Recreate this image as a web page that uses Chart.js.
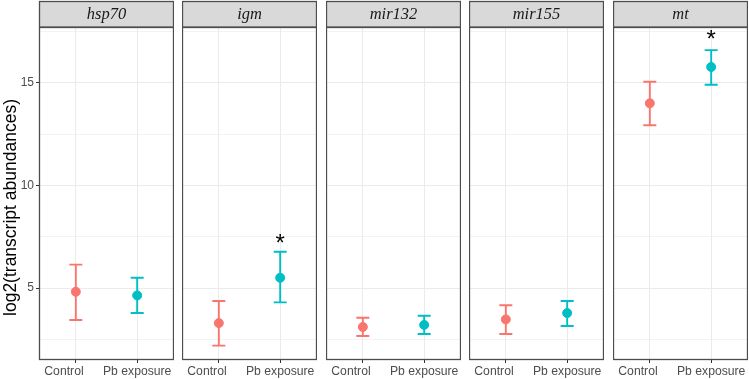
<!DOCTYPE html>
<html>
<head>
<meta charset="utf-8">
<script src="https://cdn.jsdelivr.net/npm/chart.js@4.4.0/dist/chart.umd.min.js"></script>
<style>
  body { margin: 0; background: #fff; }
  #wrap { position: relative; width: 749px; height: 379px; }
  .panel { position: absolute; top: 0; height: 379px; }
</style>
</head>
<body>
<div id="wrap"></div>
<script>
// facet genes and groups
const genes = ['hsp70', 'igm', 'mir132', 'mir155', 'mt'];
const groups = ['Control', 'Pb exposure'];

// means and error bar ends
const controlMean = [4.82, 3.29, 3.10, 3.47, 14.01];
const controlLow  = [3.44, 2.19, 2.66, 2.76, 12.94];
const controlHigh = [6.14, 4.37, 3.55, 4.16, 15.06];
const pbMean = [4.64, 5.50, 3.20, 3.78, 15.78];
const pbLow  = [3.78, 4.30, 2.76, 3.15, 14.91];
const pbHigh = [5.50, 6.77, 3.65, 4.37, 16.60];
// where the significance star sits (null = none)
const starY = [null, 7.31, null, null, 17.26];

const yTicks = [2.5, 5, 7.5, 10, 12.5, 15, 17.5];
const yMin = 1.49, yMax = 17.73;

const colors = ['#F8766D', '#00BFC4'];
const panelLeft = [39, 182, 326, 469, 613];
const panelWidth = 135;
const axisW = 39;

// draws strip, border, error bars and stars
const facetPlugin = {
    id: 'facet',
    beforeDatasetsDraw(chart) {
        const ctx = chart.ctx;
        const xs = chart.scales.x, ys = chart.scales.y;
        const i = chart.options.plugins.facet.index;
        const lows = [controlLow[i], pbLow[i]];
        const highs = [controlHigh[i], pbHigh[i]];
        ctx.save();
        ctx.lineWidth = 1.9;
        for (let g = 0; g < 2; g++) {
            const px = xs.getPixelForValue(g);
            const y1 = ys.getPixelForValue(lows[g]);
            const y2 = ys.getPixelForValue(highs[g]);
            ctx.strokeStyle = colors[g];
            ctx.beginPath();
            ctx.moveTo(px, y1); ctx.lineTo(px, y2);
            ctx.moveTo(px - 6.5, y1); ctx.lineTo(px + 6.5, y1);
            ctx.moveTo(px - 6.5, y2); ctx.lineTo(px + 6.5, y2);
            ctx.stroke();
        }
        ctx.restore();
    },
    afterDraw(chart) {
        const ctx = chart.ctx;
        const area = chart.chartArea;
        const xs = chart.scales.x, ys = chart.scales.y;
        const i = chart.options.plugins.facet.index;
        ctx.save();
        // panel border
        ctx.strokeStyle = '#4D4D4D';
        ctx.lineWidth = 1.3;
        ctx.strokeRect(area.left + 0.5, area.top + 0.5, area.width - 1, area.height - 1);
        // strip
        ctx.fillStyle = '#D9D9D9';
        ctx.fillRect(area.left, 1, area.width, area.top - 1);
        ctx.strokeRect(area.left + 0.5, 1.5, area.width - 1, area.top - 1.5);
        ctx.fillStyle = '#1A1A1A';
        ctx.font = 'italic 16.5px "Liberation Serif"';
        ctx.textAlign = 'center';
        ctx.textBaseline = 'middle';
        ctx.fillText(genes[i], (area.left + area.right) / 2, area.top / 2 + 1);
        // star
        if (starY[i] !== null) {
            ctx.fillStyle = '#000';
            ctx.font = '24px "Liberation Sans"';
            ctx.fillText('*', xs.getPixelForValue(1), ys.getPixelForValue(starY[i]) + 4);
        }
        // y title on first panel
        if (i === 0) {
            ctx.translate(11, (area.top + area.bottom) / 2 + 14);
            ctx.rotate(-Math.PI / 2);
            ctx.fillStyle = '#000';
            ctx.font = '17.5px "Liberation Sans"';
            ctx.fillText('log2(transcript abundances)', 0, 0);
        }
        ctx.restore();
    }
};

genes.forEach((gene, i) => {
    const div = document.createElement('div');
    div.className = 'panel';
    const left = i === 0 ? 0 : panelLeft[i];
    const width = i === 0 ? panelLeft[0] + panelWidth : panelWidth;
    div.style.left = left + 'px';
    div.style.width = width + 'px';
    const canvas = document.createElement('canvas');
    div.appendChild(canvas);
    document.getElementById('wrap').appendChild(div);

    new Chart(canvas, {
        type: 'scatter',
        data: {
            datasets: [
                {
                    label: groups[0],
                    data: [{x: 0, y: controlMean[i]}],
                    backgroundColor: colors[0],
                    borderColor: colors[0],
                    pointRadius: 4.5
                },
                {
                    label: groups[1],
                    data: [{x: 1, y: pbMean[i]}],
                    backgroundColor: colors[1],
                    borderColor: colors[1],
                    pointRadius: 4.5
                }
            ]
        },
        options: {
            responsive: true,
            maintainAspectRatio: false,
            animation: false,
            layout: { autoPadding: false, padding: { top: 27, left: 0, right: 0, bottom: 0 } },
            scales: {
                x: {
                    type: 'linear',
                    min: -0.6,
                    max: 1.6,
                    afterBuildTicks: (scale) => { scale.ticks = [{value: 0}, {value: 1}]; },
                    afterFit: (scale) => {
                        scale.height = 19;
                        scale.paddingLeft = 0;
                        scale.paddingRight = 0;
                    },
                    ticks: {
                        // the Control label sits left of its tick in the original
                        callback: (v) => (v === 0 ? groups[v] + '       ' : groups[v]),
                        color: '#4D4D4D',
                        font: { family: 'Liberation Sans', size: 12.2 },
                        padding: 1,
                        maxRotation: 0,
                        autoSkip: false
                    },
                    grid: { color: '#EBEBEB', lineWidth: 1, tickLength: 3, tickColor: '#333333' },
                    border: { display: false }
                },
                y: {
                    min: yMin,
                    max: yMax,
                    afterBuildTicks: (scale) => { scale.ticks = yTicks.map(v => ({value: v})); },
                    afterFit: (scale) => {
                        scale.width = i === 0 ? axisW : 0;
                        scale.paddingTop = 0;
                        scale.paddingBottom = 0;
                    },
                    ticks: {
                        display: i === 0,
                        callback: (v) => (v % 5 === 0 ? v : ''),
                        color: '#4D4D4D',
                        font: { family: 'Liberation Sans', size: 12 },
                        padding: 2
                    },
                    grid: {
                        color: '#EBEBEB',
                        lineWidth: (c) => (c.tick && c.tick.value % 5 === 0 ? 1 : 0.6),
                        drawTicks: i === 0,
                        tickLength: 3,
                        tickColor: (c) => (c.tick && c.tick.value % 5 === 0 ? '#333333' : 'rgba(0,0,0,0)')
                    },
                    border: { display: false }
                }
            },
            plugins: {
                legend: { display: false },
                tooltip: { enabled: false },
                facet: { index: i }
            }
        },
        plugins: [facetPlugin]
    });
});
</script>
</body>
</html>
